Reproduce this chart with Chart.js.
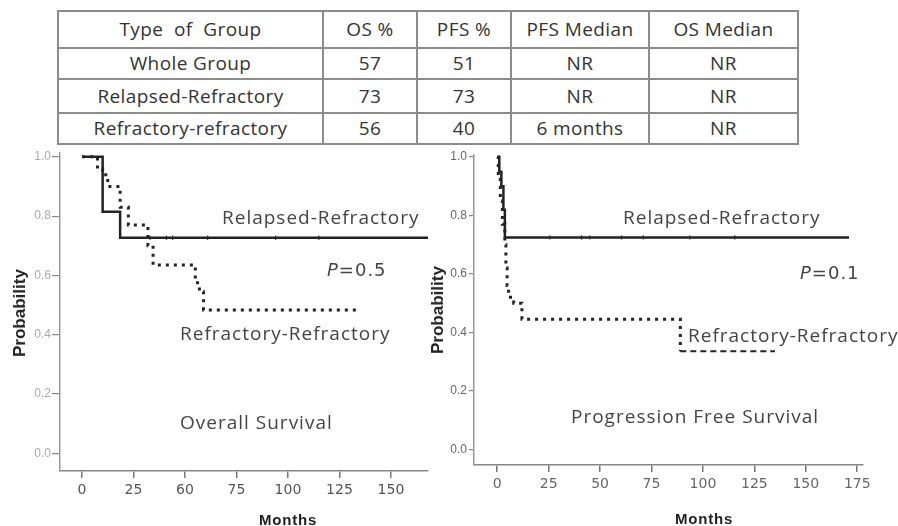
<!DOCTYPE html>
<html lang="en">
<head>
  <meta charset="UTF-8">
  <title>OS / PFS Kaplan-Meier</title>
  <script src="https://cdn.jsdelivr.net/npm/chart.js"></script>
  <style>
    body {
      margin: 0;
      width: 898px;
      height: 526px;
      background: #fff;
      position: relative;
      overflow: hidden;
      font-family: "Open Sans", sans-serif;
    }
    canvas { position: absolute; }
    #osChart { left: 0; top: 140px; }
    #pfsChart { left: 420px; top: 140px; }
    table {
      position: absolute;
      left: 57px;
      top: 10px;
      table-layout: fixed;
      border-collapse: collapse;
      color: #333;
      font-size: 19px;
      letter-spacing: 0.4px;
    }
    td {
      border: 2px solid #8c8c8c;
      text-align: center;
      padding: 0;
      line-height: 1;
      white-space: pre;
      overflow: hidden;
      box-sizing: border-box;
    }
    .lbl {
      position: absolute;
      white-space: pre;
      line-height: 1;
      transform: translateY(-50%);
      color: #444;
      font-size: 19px;
      letter-spacing: 1px;
    }
    .pval { font-family: "DejaVu Sans", sans-serif; font-size: 18px; }
    .ytitle {
      position: absolute;
      font: bold 17px "Liberation Sans", Arial, sans-serif;
      color: #222;
      transform: translate(-50%, -50%) rotate(-90deg);
      white-space: pre;
    }
    .xtitle {
      position: absolute;
      font: bold 15px "Liberation Sans", Arial, sans-serif;
      color: #222;
      letter-spacing: 0.8px;
      transform: translate(-50%, -50%);
    }
  </style>
</head>
<body>
  <table id="summary"></table>

  <canvas id="osChart" width="440" height="386"></canvas>
  <canvas id="pfsChart" width="478" height="386"></canvas>

  <div class="ytitle" style="left:20px; top:313px">Probability</div>
  <div class="ytitle" style="left:438px; top:310px">Probability</div>
  <div class="xtitle" style="left:288px; top:519px">Months</div>
  <div class="xtitle" style="left:704px; top:518px">Months</div>

  <div class="lbl" style="left:222px; top:217px">Relapsed-Refractory</div>
  <div class="lbl pval" style="left:327px; top:270px"><i>P</i>=0.5</div>
  <div class="lbl" style="left:180px; top:333px">Refractory-Refractory</div>
  <div class="lbl" style="left:180px; top:422px">Overall Survival</div>

  <div class="lbl" style="left:623px; top:217px">Relapsed-Refractory</div>
  <div class="lbl pval" style="left:800px; top:273px"><i>P</i>=0.1</div>
  <div class="lbl" style="left:688px; top:335px">Refractory-Refractory</div>
  <div class="lbl" style="left:571px; top:416px">Progression Free Survival</div>

  <script>
    // summary table
    const tableHeader = ['Type  of  Group', 'OS %', 'PFS %', 'PFS Median', 'OS Median'];
    const groups = ['Whole Group', 'Relapsed-Refractory', 'Refractory-refractory'];
    const osPct = [57, 73, 56];
    const pfsPct = [51, 73, 40];
    const pfsMedian = ['NR', 'NR', '6 months'];
    const osMedian = ['NR', 'NR', 'NR'];

    // overall survival (months, probability after each step)
    const osRelMonths = [0, 10, 18.5, 168];
    const osRelProb = [1, 0.815, 0.727, 0.727];
    const osRelCensor = [33, 41, 44, 61, 94, 115];
    const osRefMonths = [0, 7.5, 10, 12.5, 18.5, 22.5, 32, 34.5, 55, 57, 59, 133.5];
    const osRefProb = [1, 0.96, 0.94, 0.90, 0.83, 0.77, 0.70, 0.635, 0.575, 0.545, 0.483, 0.483];

    // progression free survival
    const pfsRelMonths = [0, 1, 2, 3, 3.7, 171];
    const pfsRelProb = [1, 0.95, 0.9, 0.82, 0.725, 0.725];
    const pfsRelCensor = [25.6, 41, 45, 60.5, 71, 93.6, 115.5];
    const pfsRefMonths = [0, 0.5, 1.5, 2.5, 3.7, 4.2, 4.8, 5.5, 8, 12, 89, 135];
    const pfsRefProb = [1, 0.93, 0.85, 0.77, 0.70, 0.62, 0.56, 0.52, 0.50, 0.445, 0.335, 0.335];

    const yTicks = [0, 0.2, 0.4, 0.6, 0.8, 1.0];
    const yTickLabels = ['0.0', '0.2', '0.4', '0.6', '0.8', '1.0'];
    const osXTicks = [0, 25, 50, 75, 100, 125, 150];
    const osXTickLabels = ['0', '25', '60', '75', '100', '125', '150'];
    const pfsXTicks = [0, 25, 50, 75, 100, 125, 150, 175];
    const pfsXTickLabels = ['0', '25', '50', '75', '100', '125', '150', '175'];

    // build table
    const tbl = document.getElementById('summary');
    const colW = [265, 94, 94, 138, 149];
    const rowH = [37, 31, 34, 31];
    tbl.style.width = colW.reduce((a, b) => a + b, 0) + 'px';
    const rows = [tableHeader].concat(groups.map((g, i) =>
      [g, osPct[i], pfsPct[i], pfsMedian[i], osMedian[i]]));
    rows.forEach((r, i) => {
      const tr = document.createElement('tr');
      r.forEach((c, j) => {
        const td = document.createElement('td');
        td.textContent = c;
        td.style.width = colW[j] + 'px';
        td.style.height = rowH[i] + 'px';
        tr.appendChild(td);
      });
      tbl.appendChild(tr);
    });

    const pts = (xs, ys) => xs.map((x, i) => ({ x: x, y: ys[i] }));
    const censorPts = (xs, y) => xs.map(x => ({ x: x, y: y }));
    const INK = '#222';

    const createChart = (canvasId, o) => {
      const ctx = document.getElementById(canvasId).getContext('2d');
      return new Chart(ctx, {
        type: 'line',
        data: {
          datasets: [
            {
              data: pts(o.refMonths, o.refProb),
              stepped: 'before',
              borderColor: INK,
              borderWidth: 3,
              borderDash: [3, 5],
              borderCapStyle: 'butt',
              pointRadius: 0,
              segment: o.dashTail ? {
                borderDash: c => c.p1DataIndex === o.refMonths.length - 1 ? [6, 4] : [3, 5],
                borderWidth: c => c.p1DataIndex === o.refMonths.length - 1 ? 2 : 3
              } : undefined
            },
            {
              data: pts(o.relMonths, o.relProb),
              stepped: 'before',
              borderColor: INK,
              borderWidth: 2.5,
              pointRadius: 0
            },
            {
              type: 'scatter',
              data: censorPts(o.relCensor, o.relProb[o.relProb.length - 1]),
              pointStyle: 'line',
              rotation: 90,
              radius: 2.2,
              borderColor: '#444',
              borderWidth: 1.2
            }
          ]
        },
        options: {
          responsive: false,
          animation: false,
          devicePixelRatio: 1,
          layout: { padding: o.padding },
          plugins: { legend: { display: false }, tooltip: { enabled: false } },
          scales: {
            x: {
              type: 'linear',
              min: o.xMin,
              max: o.xMax,
              afterBuildTicks: s => { s.ticks = o.xTicks.map(v => ({ value: v })); },
              afterFit: s => { s.height = o.xHeight; },
              ticks: {
                autoSkip: false,
                maxRotation: 0,
                padding: 4,
                color: o.xTickColor,
                font: { family: 'DejaVu Sans', size: 14 },
                callback: (v, i) => o.xTickLabels[i]
              },
              grid: { drawOnChartArea: false, tickLength: 7, color: '#777', lineWidth: 1.5 },
              border: { color: '#888', width: 1.5 }
            },
            y: {
              min: o.yMin,
              max: o.yMax,
              afterBuildTicks: s => { s.ticks = yTicks.map(v => ({ value: v })); },
              afterFit: s => { s.width = o.yWidth; },
              ticks: {
                padding: o.yPad,
                color: o.yTickColor,
                font: { family: 'Liberation Sans', size: 12 },
                callback: (v, i) => yTickLabels[i]
              },
              grid: { drawOnChartArea: false, tickLength: o.yTickLen, color: '#888', lineWidth: 1.2 },
              border: { color: '#999', width: 1.5 }
            }
          }
        }
      });
    };

    createChart('osChart', {
      relMonths: osRelMonths, relProb: osRelProb, relCensor: osRelCensor,
      refMonths: osRefMonths, refProb: osRefProb, dashTail: false,
      xTicks: osXTicks, xTickLabels: osXTickLabels,
      xMin: -10.7, xMax: 168, yMin: -0.06, yMax: 1.013,
      padding: { left: 0, top: 13, right: 12, bottom: 0 },
      xHeight: 55, yWidth: 60, yPad: 1, yTickLen: 8,
      xTickColor: '#555', yTickColor: '#aaa'
    });

    createChart('pfsChart', {
      relMonths: pfsRelMonths, relProb: pfsRelProb, relCensor: pfsRelCensor,
      refMonths: pfsRefMonths, refProb: pfsRefProb, dashTail: true,
      xTicks: pfsXTicks, xTickLabels: pfsXTickLabels,
      xMin: -11.3, xMax: 177.8, yMin: -0.054, yMax: 1.007,
      padding: { left: 0, top: 15, right: 35, bottom: 0 },
      xHeight: 61, yWidth: 54, yPad: 2, yTickLen: 5,
      xTickColor: '#666', yTickColor: '#666'
    });
  </script>
</body>
</html>
